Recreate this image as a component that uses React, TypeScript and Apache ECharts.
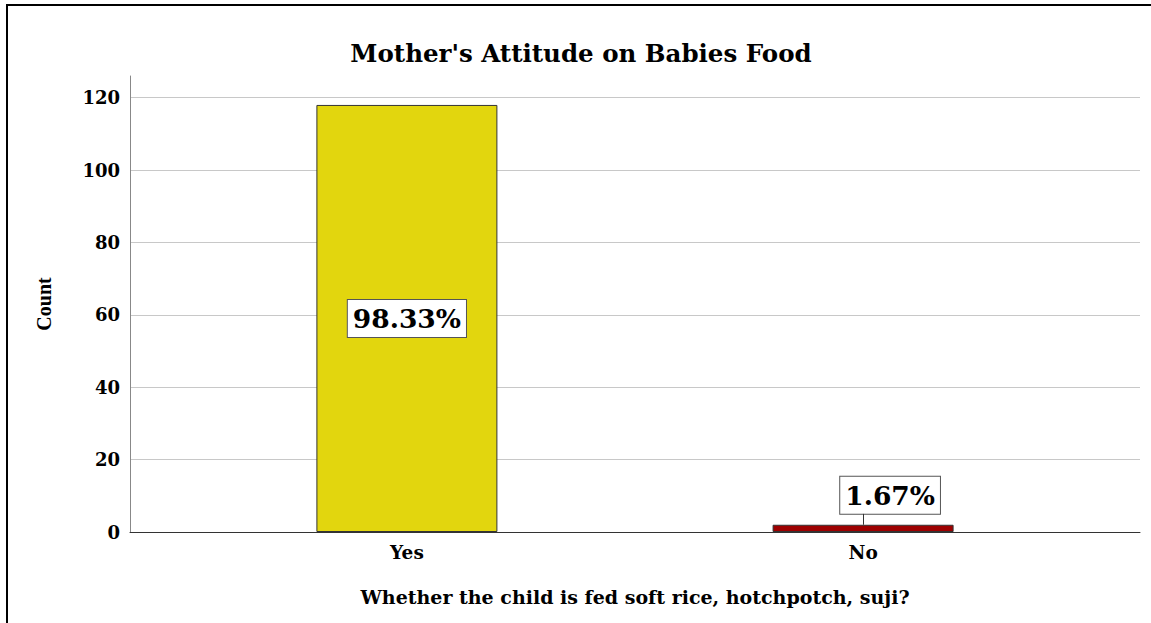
import React, { useEffect, useRef } from "react";
import * as echarts from "echarts";

// Survey responses and their counts
const categories: string[] = ["Yes", "No"];
const counts: number[] = [118, 2];
const percentLabels: string[] = ["98.33%", "1.67%"];
const barColors: string[] = ["#e2d60e", "#9e0000"];

const yTicks = { min: 0, max: 126, interval: 20 };

// Count level where the raised callout of the short bar sits
const calloutBase = 5;

const SERIF = "'DejaVu Serif', serif";

export default function App() {
  const ref = useRef<HTMLDivElement>(null);

  useEffect(() => {
    if (!ref.current) return;
    const chart = echarts.init(ref.current, null, { renderer: "svg" });

    // The tall bar carries its label in the middle; the short one gets a
    // raised callout joined to the bar by a short leader.
    const barData = counts.map((v, i) => ({
      value: [i, v],
      itemStyle: { color: barColors[i] },
      label: i === 0 ? { position: "inside" } : { position: "top", distance: 0 },
    }));

    chart.setOption({
      animation: false,
      backgroundColor: "#ffffff",
      title: {
        text: "Mother's Attitude on Babies Food",
        left: 576,
        top: 36,
        textAlign: "center",
        textStyle: {
          fontFamily: SERIF,
          fontWeight: "bold",
          fontSize: 24.5,
          color: "#000",
        },
      },
      graphic: [
        {
          type: "rect",
          shape: { x: 7, y: 5, width: 1300, height: 800 },
          style: { fill: "none", stroke: "#000", lineWidth: 2 },
          silent: true,
        },
      ],
      grid: { left: 130, right: 11, top: 76, bottom: 91 },
      xAxis: {
        type: "value",
        min: -0.607,
        max: 1.607,
        name: "Whether the child is fed soft rice, hotchpotch, suji?",
        nameLocation: "middle",
        nameGap: 55,
        nameTextStyle: {
          fontFamily: SERIF,
          fontWeight: "bold",
          fontSize: 19,
          color: "#000",
        },
        axisLine: { show: true, onZero: false, lineStyle: { color: "#333", width: 1 } },
        axisTick: { show: false },
        splitLine: { show: false },
        axisLabel: {
          customValues: [0, 1],
          formatter: (v: number) => categories[Math.round(v)] ?? "",
          margin: 11,
          fontFamily: SERIF,
          fontWeight: "bold",
          fontSize: 18.5,
          color: "#000",
        },
      },
      yAxis: {
        type: "value",
        min: yTicks.min,
        max: yTicks.max,
        interval: yTicks.interval,
        name: "Count",
        nameLocation: "middle",
        nameRotate: 90,
        nameGap: 76,
        nameTextStyle: {
          fontFamily: "'Liberation Serif', serif",
          fontWeight: "bold",
          fontSize: 20,
          color: "#000",
        },
        axisLine: { show: true, onZero: false, lineStyle: { color: "#888", width: 1 } },
        axisTick: { show: false },
        axisLabel: {
          showMaxLabel: false,
          margin: 10,
          fontFamily: SERIF,
          fontWeight: "bold",
          fontSize: 18,
          color: "#000",
        },
        splitLine: {
          show: true,
          showMaxLine: false,
          showMinLine: false,
          lineStyle: { color: "#c8c8c8", width: 1 },
        },
      },
      series: [
        {
          type: "bar",
          data: barData,
          barWidth: 181,
          itemStyle: { borderColor: "#333", borderWidth: 1 },
          label: {
            show: true,
            formatter: (p: any) => percentLabels[p.dataIndex],
            fontFamily: SERIF,
            fontWeight: "bold",
            fontSize: 26.5,
            color: "#000",
            backgroundColor: "#fff",
            borderColor: "#555",
            borderWidth: 1,
            padding: [5, 5, 5, 5],
          },
          labelLayout: (p: any) => (p.dataIndex === 1 ? { dx: 27, dy: -11 } : {}),
          markLine: {
            silent: true,
            symbol: "none",
            label: { show: false },
            lineStyle: { color: "#333", width: 1, type: "solid" },
            data: [
              [
                { coord: [1, counts[1]] },
                { coord: [1, calloutBase] },
              ],
            ],
          },
        },
      ],
    });

    return () => chart.dispose();
  }, []);

  return (
    <div
      ref={ref}
      style={{ position: "fixed", left: 0, top: 0, width: 1151, height: 623 }}
    />
  );
}
